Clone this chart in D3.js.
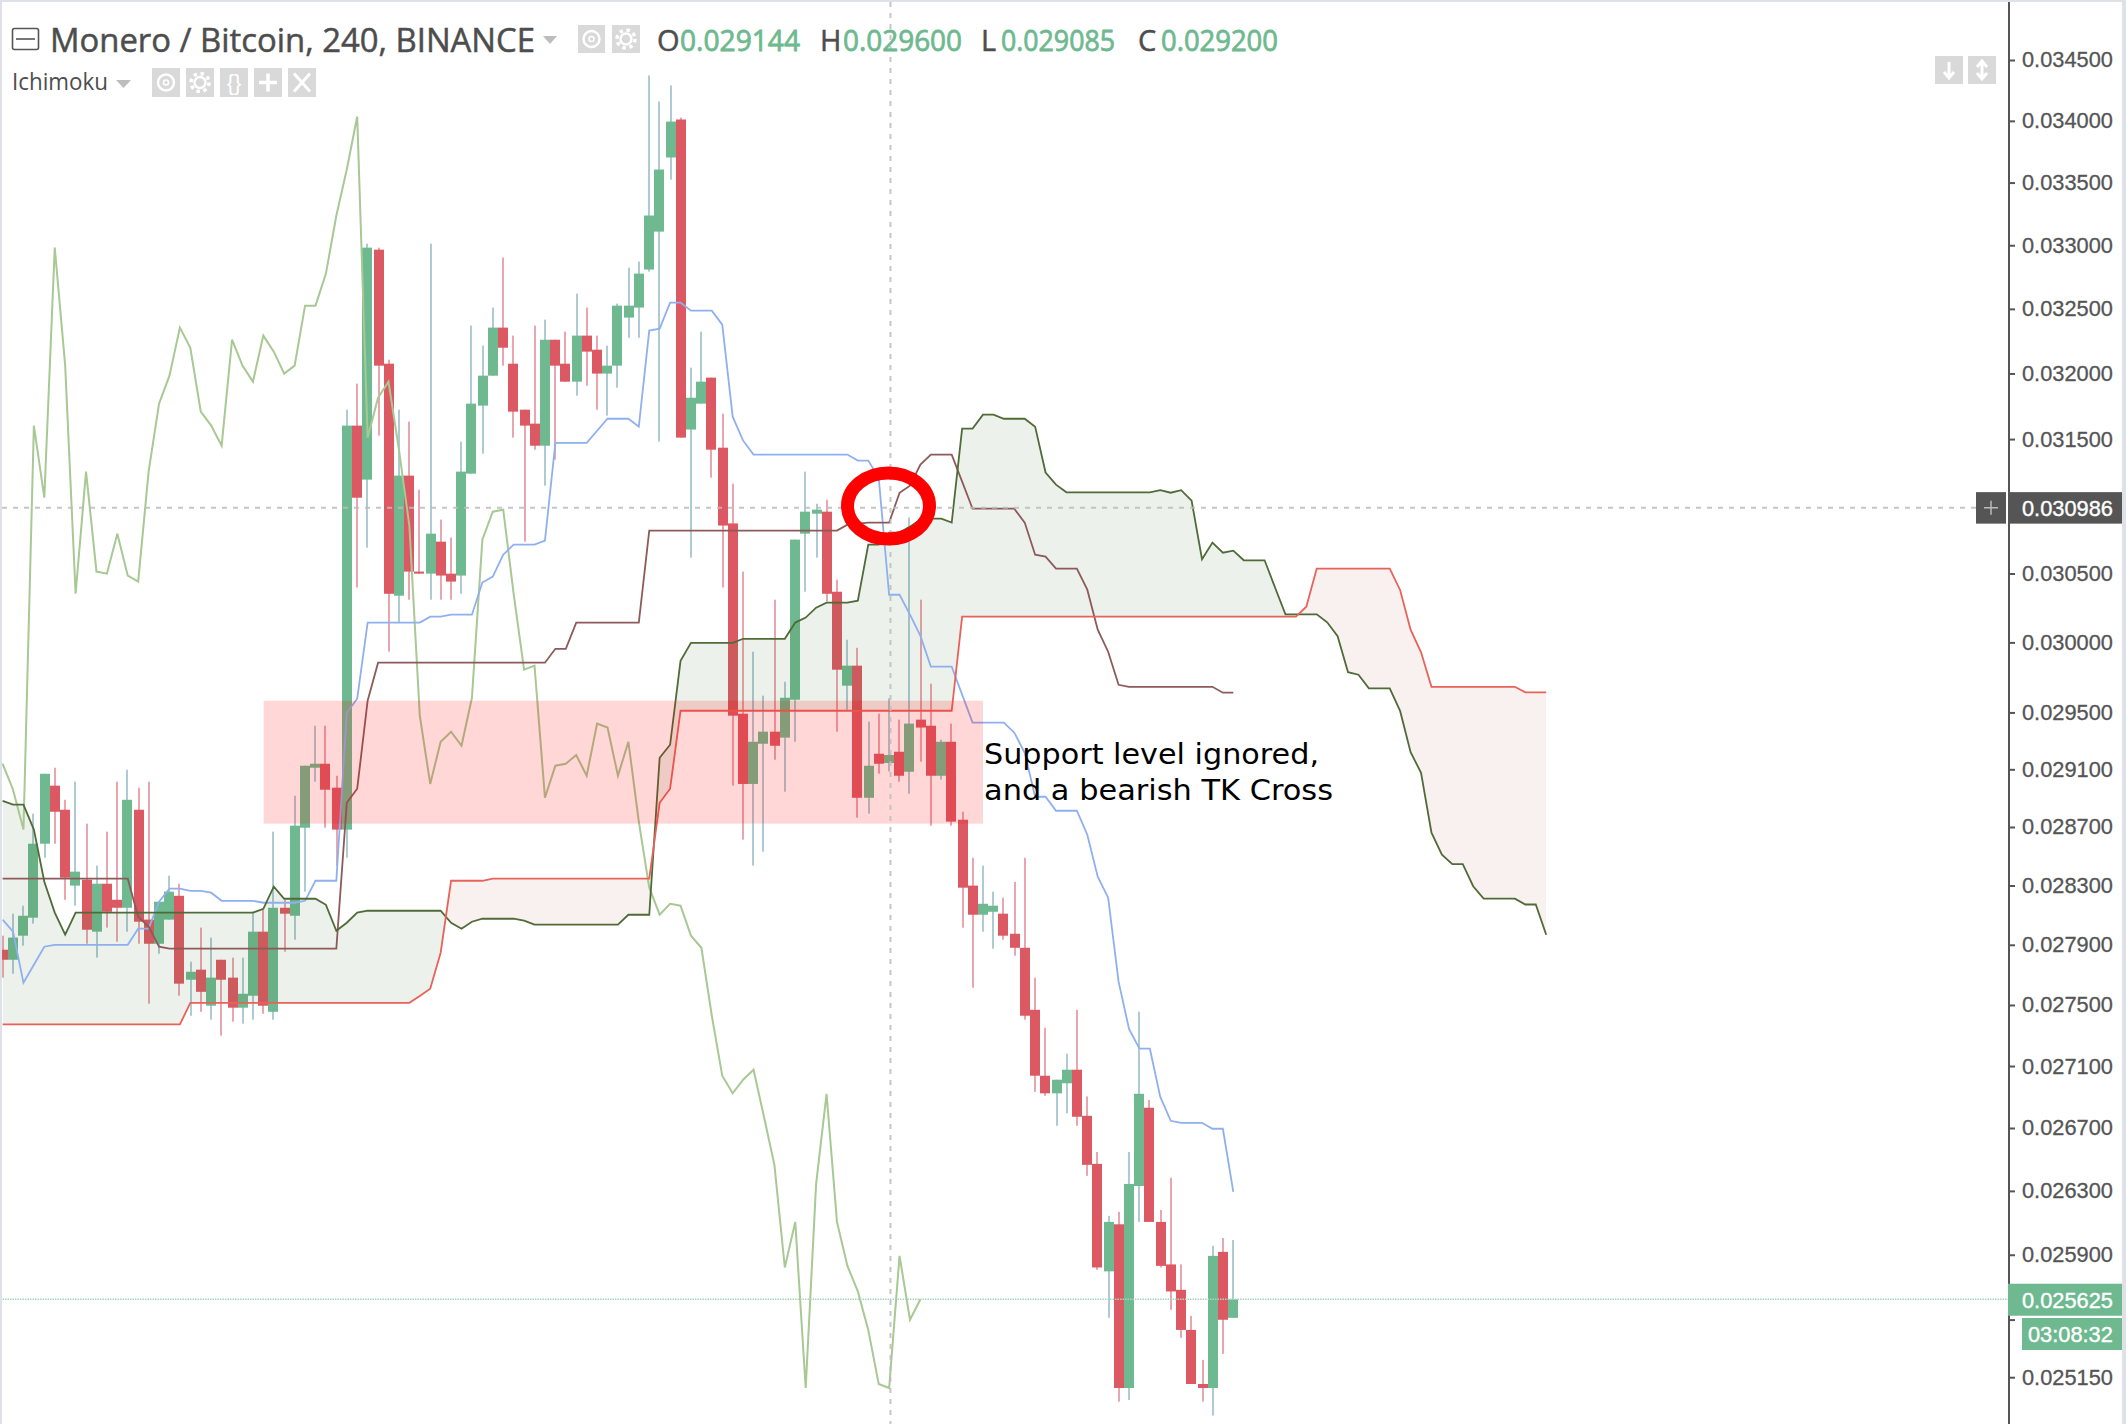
<!DOCTYPE html>
<html><head><meta charset="utf-8">
<style>html,body{margin:0;padding:0;background:#fff}svg{display:block}</style>
<script src="https://cdn.jsdelivr.net/npm/d3@7"></script></head><body>
<svg id="c" width="2126" height="1424"></svg>
<script>
// prices in millionths of a BTC
const opens=[27867,27800,27961,28082,28585,28986,28819,28299,28339,27988,
28312,28203,28149,28819,28069,27907,28069,28230,27667,27734,
27495,27800,27681,27482,27561,27988,27455,28149,28095,28695,
29111,29139,28972,28682,31602,31195,32965,32075,30338,31225,
30514,30499,30734,30499,30485,31240,31754,31983,32354,32075,
31723,31617,31450,32260,32075,31937,32292,32183,31999,32060,
32432,32510,32808,33108,33702,34011,31572,31769,31968,31435,
30869,29491,28998,29279,29364,29322,29590,30793,30941,30956,
30367,29690,29833,28902,29209,29144,29223,29083,29449,29406,
29055,29293,28750,28299,28102,28122,28109,27974,27880,27468,
27037,26923,26988,27076,26778,26471,25797,26090,25085,26331,
26830,26105,25840,25683,25437,25109,25085,25918,25511];
const highs=[27961,28109,28163,28792,29069,29111,28888,29014,28723,28435,
28668,29014,29097,28972,29014,28190,28367,28312,27787,28015,
27948,27800,27814,27814,28122,28136,28668,28203,28916,29125,
29406,29406,29055,31723,31922,33013,32981,32106,31723,31632,
31120,33013,30897,30764,31481,32370,32214,32510,32902,32292,
31723,32370,32416,32260,32323,32619,32510,32292,32214,32541,
32823,32871,34372,34158,34290,34027,32045,32323,31968,31693,
31165,30514,29933,29619,30309,29718,30749,31255,31015,31045,
30455,30019,29961,29435,29491,29600,29449,30913,30309,29704,
29308,29421,28805,28489,28435,28258,28217,28325,28489,27681,
27350,27011,27180,27468,26903,26547,26143,26168,26547,27455,
26881,26180,26383,25840,25523,25255,25955,26004,25992];
const lows=[27681,27707,27894,28042,28489,28585,28203,28163,27907,27814,
28015,27921,27988,27907,27508,27840,28069,27561,27429,27455,
27403,27298,27390,27377,27403,27442,27403,27854,27934,28258,
29014,28695,28435,28489,30397,30690,31526,29933,30143,30309,
30499,30309,30309,30309,30352,31240,31390,31983,32060,31511,
30734,31420,31150,31345,31937,31830,31906,31723,31678,31891,
32275,32275,32792,31481,33524,31511,30616,31769,31210,30397,
28986,28613,28435,28530,29167,28944,29293,30367,30616,30295,
29364,29519,28764,28792,29069,29085,29014,28930,29153,28709,
29028,28709,28015,27614,27988,27874,27934,27827,27403,26933,
26907,26714,26794,26714,26395,25806,25511,25003,25013,26105,
26105,25821,25560,25389,25109,25003,24920,25291,25511];
const closes=[27800,27948,28095,28585,29069,28805,28353,28394,28001,28312,
28122,28149,28888,28055,27907,28190,28258,27641,27720,27587,
27681,27667,27482,27574,27988,27495,28149,28109,28709,29125,
29139,28958,28682,31602,31060,32981,32060,30352,31225,30514,
30499,30793,30485,30441,31255,31769,31983,32354,32198,31708,
31602,31450,32260,32060,31937,32292,32168,31999,32060,32525,
32525,32776,33236,33605,33994,31511,31814,31937,31420,30853,
29477,28998,29293,29364,29265,29604,30749,30956,30971,30352,
29804,29833,28902,29125,29139,29200,29055,29421,29393,29055,
29293,28737,28285,28102,28176,28163,27961,27880,27429,27037,
26923,27011,27076,26772,26465,25821,26105,25085,26344,26920,
26105,25831,25673,25437,25109,25085,25893,25499,25625];
const tenkan=[28069,27988,27647,27767,27887,27900,27900,27900,27900,27900,
27900,27900,27900,28008,28008,28190,28278,28278,28264,28264,
28251,28196,28196,28196,28196,28183,28183,28183,28183,28196,
28332,28332,28332,29498,29597,30143,30143,30143,30143,30143,
30143,30186,30186,30200,30200,30200,30434,30477,30638,30712,
30712,30712,30741,31472,31472,31472,31472,31563,31654,31654,
31654,31594,32331,32346,32549,32549,32486,32486,32486,32377,
31670,31488,31383,31383,31383,31383,31383,31383,31383,31383,
31383,31383,31338,31338,31210,30345,30345,30200,30047,29826,
29826,29826,29626,29428,29428,29428,29428,29357,29216,28909,
28909,28812,28812,28812,28647,28360,28217,27654,27343,27213,
27213,26900,26746,26733,26733,26733,26695,26695,26294];
const kijun=[28346,28346,28346,28346,28346,28346,28346,28346,28346,28346,
28346,28346,28346,28089,28022,27887,27874,27874,27874,27874,
27874,27874,27874,27874,27874,27874,27874,27874,27874,27874,
27874,27874,27874,28867,28965,29583,29854,29854,29854,29854,
29854,29854,29854,29854,29854,29854,29854,29854,29854,29854,
29854,29854,29854,29954,29954,30143,30143,30143,30143,30143,
30143,30143,30816,30816,30816,30816,30816,30816,30816,30816,
30816,30816,30816,30816,30816,30816,30816,30816,30816,30816,
30816,30860,30867,30875,30875,30875,31097,31150,31308,31383,
31383,31383,31180,30978,30978,30978,30978,30978,30875,30638,
30624,30536,30536,30536,30382,30092,29933,29696,29682,29682,
29682,29682,29682,29682,29682,29682,29682,29640,29640];
const leadA=[28881,28854,28854,28682,28325,28116,27968,28116,28116,28116,
28116,28116,28116,28116,28116,28116,28116,28116,28116,28116,
28116,28116,28116,28116,28116,28142,28292,28210,28210,28210,
28210,28169,27994,28048,28116,28129,28129,28129,28129,28129,
28129,28129,28129,28048,28008,28055,28075,28075,28075,28075,
28062,28035,28035,28035,28035,28035,28035,28035,28035,28035,
28102,28102,28102,29181,29272,29868,29997,29997,29997,29997,
29997,30026,30026,30026,30026,30026,30143,30179,30251,30287,
30287,30287,30302,30712,30712,30801,30801,30845,30897,30904,
30904,30875,31579,31579,31685,31685,31654,31654,31654,31594,
31248,31157,31100,31100,31100,31100,31100,31100,31100,31100,
31100,31116,31097,31116,31038,30605,30727,30653,30668,30597,
30597,30597,30398,30203,30203,30203,30203,30145,30045,29786,
29768,29671,29671,29671,29509,29220,29076,28661,28510,28445,
28445,28295,28211,28211,28211,28211,28171,28171,27967];
const leadB=[27372,27372,27372,27372,27372,27372,27372,27372,27372,27372,
27372,27372,27372,27372,27372,27372,27372,27372,27514,27514,
27514,27514,27514,27514,27514,27514,27514,27514,27514,27514,
27514,27514,27514,27514,27514,27514,27514,27514,27514,27514,
27560,27607,27847,28332,28332,28332,28332,28346,28346,28346,
28346,28346,28346,28346,28346,28346,28346,28346,28346,28346,
28346,28346,28346,28867,28965,29512,29512,29512,29512,29512,
29512,29512,29512,29512,29512,29512,29512,29512,29512,29512,
29512,29512,29512,29512,29512,29512,29512,29512,29512,29512,
29512,29512,30186,30186,30186,30186,30186,30186,30186,30186,
30186,30186,30186,30186,30186,30186,30186,30186,30186,30186,
30186,30186,30186,30186,30186,30186,30186,30186,30186,30186,
30186,30186,30186,30186,30186,30258,30536,30536,30536,30536,
30536,30536,30536,30536,30378,30092,29929,29682,29682,29682,
29682,29682,29682,29682,29682,29682,29643,29643,29643];
const lagging=[29139,28958,28682,31602,31060,32981,32060,30352,31255,30514,
30499,30793,30485,30441,31255,31769,31983,32354,32198,31708,
31602,31450,32260,32060,31937,32292,32168,31999,32060,32525,
32525,32776,33236,33605,34035,31511,31814,31937,31420,30853,
29477,28998,29293,29364,29265,29604,30749,30956,30971,30352,
29804,29833,28902,29125,29139,29200,29055,29421,29393,29055,
29293,28737,28285,28102,28176,28163,27961,27880,27429,27037,
26923,27011,27076,26772,26465,25821,26105,25085,26344,26920,
26105,25831,25673,25437,25109,25085,25893,25499,25625];
const priceTicks=[34500,34000,33500,33000,32500,32000,31500,31000,30500,30000,29500,29100,28700,28300,27900,27500,27100,26700,26300,25900,25500,25150];
const hiddenTickLabels=[31000,25500];
const supportZone={x0:25.03,x1:94,top:29583,bottom:28723};
const crosshair={bar:85.13,price:30986};
const lastPrice=25625;
const countdown="03:08:32";
const title="Monero / Bitcoin, 240, BINANCE";
const ohlcLetters=["O","H","L","C"];
const ohlcValues=["0.029144","0.029600","0.029085","0.029200"];
const noteLines=["Support level ignored,","and a bearish TK Cross"];

const W=2126,H=1424,axisX=2009;
const svg=d3.select("#c");
const x=d3.scaleLinear().domain([0,148]).range([2.6,1546.2]);
const y=d3.scaleLog().domain([34500,25150]).range([60,1377.2]);
const fmt=v=>(v/1e6).toFixed(6);
const C={up:"#6eb98f",dn:"#dc5963",upW:"#aecbd3",dnW:"#e9a6ae",txt:"#555",
  ten:"#8fb0ee",kij:"#8d5a5a",a:"#4f6b37",b:"#e8625a",lag:"#a8c894",
  cloudUp:"rgba(60,110,40,0.095)",cloudDn:"rgba(170,50,30,0.07)",zone:"rgba(255,0,0,0.155)",cross:"#bdbdbd",icon:"#d9d9d9"};
const sans="'Liberation Sans',Arial,sans-serif", head="'Open Sans',sans-serif";

svg.append("rect").attr("width",W).attr("height",H).attr("fill","#fff");
const defs=svg.append("defs");
defs.append("clipPath").attr("id","plot").append("rect").attr("x",2).attr("y",2).attr("width",axisX-2).attr("height",H-2);

const plot=svg.append("g").attr("clip-path","url(#plot)");

// candles
const bars=d3.range(closes.length).map(i=>({i,o:opens[i],h:highs[i],l:lows[i],c:closes[i]}));
const bodyLeft=d=>Math.round((x(d.i)-5)/2)*2;
plot.append("g").selectAll("rect").data(bars).join("rect")
  .attr("x",d=>bodyLeft(d)+4).attr("width",2)
  .attr("y",d=>y(d.h)).attr("height",d=>y(d.l)-y(d.h))
  .attr("fill",d=>d.c>=d.o?C.upW:C.dnW);
plot.append("g").selectAll("rect").data(bars).join("rect")
  .attr("x",bodyLeft).attr("width",10)
  .attr("y",d=>y(Math.max(d.o,d.c))).attr("height",d=>Math.max(2,Math.abs(y(d.o)-y(d.c))))
  .attr("fill",d=>d.c>=d.o?C.up:C.dn);

// cloud
const cloud=d3.range(leadA.length).map(i=>({i,a:leadA[i],b:leadB[i]}));
const between=d3.area().x(d=>x(d.i)).y0(d=>y(d.a)).y1(d=>y(d.b));
defs.append("clipPath").attr("id","aboveB").append("path")
  .attr("d",d3.area().x(d=>x(d.i)).y0(0).y1(d=>y(d.b))(cloud));
defs.append("clipPath").attr("id","aboveA").append("path")
  .attr("d",d3.area().x(d=>x(d.i)).y0(0).y1(d=>y(d.a))(cloud));
plot.append("path").attr("d",between(cloud)).attr("fill",C.cloudUp).attr("clip-path","url(#aboveB)");
plot.append("path").attr("d",between(cloud)).attr("fill",C.cloudDn).attr("clip-path","url(#aboveA)");

// ichimoku lines
const line=d3.line().x((d,i)=>x(i)).y(d=>y(d));
[[lagging,C.lag,2],[tenkan,C.ten,1.8],[kijun,C.kij,1.8],[leadA,C.a,1.8],[leadB,C.b,1.8]].forEach(([s,col,w])=>{
  plot.append("path").attr("d",line(s)).attr("fill","none").attr("stroke",col).attr("stroke-width",w).attr("stroke-linejoin","miter");
});

// last price line
plot.append("line").attr("x1",0).attr("x2",axisX).attr("y1",y(lastPrice)).attr("y2",y(lastPrice))
  .attr("stroke","#a6d6bb").attr("stroke-width",1.4).attr("stroke-dasharray","1.5 1");

// support zone
plot.append("rect").attr("x",x(supportZone.x0)).attr("width",x(supportZone.x1)-x(supportZone.x0))
  .attr("y",y(supportZone.top)).attr("height",y(supportZone.bottom)-y(supportZone.top)).attr("fill",C.zone);

// crosshair
plot.append("line").attr("x1",x(crosshair.bar)).attr("x2",x(crosshair.bar)).attr("y1",2).attr("y2",H)
  .attr("stroke",C.cross).attr("stroke-width",2).attr("stroke-dasharray","5 6").attr("opacity",.85);
plot.append("line").attr("x1",2).attr("x2",1976).attr("y1",y(crosshair.price)).attr("y2",y(crosshair.price))
  .attr("stroke",C.cross).attr("stroke-width",2).attr("stroke-dasharray","5 6").attr("opacity",.85);

// annotation
noteLines.forEach((t,i)=>svg.append("text").attr("x",984).attr("y",764+i*35.5).text(t)
  .attr("font-family","'DejaVu Sans',sans-serif").attr("font-size",29).attr("fill","#000")
  .attr("textLength",i?349:335).attr("lengthAdjust","spacingAndGlyphs"));

// red circle
svg.append("ellipse").attr("cx",888.5).attr("cy",506).attr("rx",41).attr("ry",33)
  .attr("fill","none").attr("stroke","#ff0000").attr("stroke-width",13);

// axis
const axisG=svg.append("g").attr("transform",`translate(${axisX},0)`)
  .call(d3.axisRight(y).tickValues(priceTicks).tickFormat(v=>hiddenTickLabels.includes(v)?"":fmt(v)).tickSize(6).tickPadding(7));
axisG.select(".domain").remove();
axisG.selectAll("line").attr("stroke",C.txt).attr("stroke-width",2);
axisG.selectAll("text").attr("font-family",sans).attr("font-size",21.8).attr("fill",C.txt).attr("stroke",C.txt).attr("stroke-width",.3);
svg.append("rect").attr("x",axisX-1).attr("y",2).attr("width",2).attr("height",H).attr("fill",C.txt);

function tag(x0,x1,yy,h,fill,text,tx){
  svg.append("rect").attr("x",x0).attr("y",yy).attr("width",x1-x0).attr("height",h).attr("fill",fill);
  svg.append("text").attr("x",tx).attr("y",yy+h/2).attr("dy",".36em").text(text)
    .attr("font-family",sans).attr("font-size",21.8).attr("fill","#fff").attr("stroke","#fff").attr("stroke-width",.4);
}
const cy=y(crosshair.price);
tag(axisX-1,2122,cy-15.5,31.5,C.txt,fmt(crosshair.price),2022);
svg.append("rect").attr("x",1976).attr("y",cy-15.5).attr("width",30).attr("height",31.5).attr("fill",C.txt);
svg.append("path").attr("d",`M1984 ${cy}H1998M1991 ${cy-7}V${cy+7}`).attr("stroke","#bbb").attr("stroke-width",1.5);
tag(axisX-1,2122,y(lastPrice)-15.5,32,"#6eb98f",fmt(lastPrice),2022);
tag(2022,2122,1318,32,"#6eb98f",countdown,2028);

// header
svg.append("rect").attr("x",12.5).attr("y",28.5).attr("width",26).attr("height",21).attr("rx",2).attr("fill","none").attr("stroke",C.txt).attr("stroke-width",1.6);
svg.append("line").attr("x1",16).attr("x2",35).attr("y1",39).attr("y2",39).attr("stroke",C.txt).attr("stroke-width",1.6);
svg.append("text").attr("x",50).attr("y",52).text(title).attr("font-family",head).attr("font-size",33).attr("fill","#4d4d4d")
  .attr("stroke","#4d4d4d").attr("stroke-width",.5)
  .attr("textLength",485).attr("lengthAdjust","spacingAndGlyphs");
const caret=(x0,yy,w,h)=>svg.append("path").attr("d",`M${x0} ${yy}h${w}l${-w/2} ${h}z`).attr("fill","#bdbdbd");
caret(543,36,14,8);
function iconBox(x0,yy,w,h,kind){
  svg.append("rect").attr("x",x0).attr("y",yy).attr("width",w).attr("height",h).attr("fill",C.icon);
  const cx=x0+w/2,cyy=yy+h/2,g=svg.append("g").attr("fill","none").attr("stroke","#fff").attr("stroke-width",2.4);
  if(kind==="eye"){g.append("circle").attr("cx",cx).attr("cy",cyy).attr("r",8);g.append("circle").attr("cx",cx).attr("cy",cyy).attr("r",2.5).attr("stroke-width",1.5);}
  if(kind==="gear"){g.append("circle").attr("cx",cx).attr("cy",cyy).attr("r",5.5);g.append("circle").attr("cx",cx).attr("cy",cyy).attr("r",9).attr("stroke-width",3.5).attr("stroke-dasharray","3.5 3.6");}
  if(kind==="brace"){svg.append("text").attr("x",cx).attr("y",cyy).attr("dy",".34em").attr("text-anchor","middle").text("{}").attr("font-family",sans).attr("font-size",22).attr("fill","#fff");}
  if(kind==="plus"){g.append("path").attr("d",`M${cx-9} ${cyy}H${cx+9}M${cx} ${cyy-9}V${cyy+9}`).attr("stroke-width",3.5);}
  if(kind==="x"){g.append("path").attr("d",`M${cx-8} ${cyy-9}L${cx+8} ${cyy+9}M${cx+8} ${cyy-9}L${cx-8} ${cyy+9}`).attr("stroke-width",3);}
  if(kind==="down"){g.append("path").attr("d",`M${cx} ${cyy-8}V${cyy+5}M${cx-5} ${cyy+2}L${cx} ${cyy+8}L${cx+5} ${cyy+2}`).attr("stroke-width",3);}
  if(kind==="updown"){g.append("path").attr("d",`M${cx} ${cyy-8}V${cyy+8}M${cx-5} ${cyy-3}L${cx} ${cyy-9}L${cx+5} ${cyy-3}M${cx-5} ${cyy+3}L${cx} ${cyy+9}L${cx+5} ${cyy+3}`).attr("stroke-width",3);}
}
iconBox(578,25,27,28,"eye");iconBox(612,25,28,28,"gear");
const ohlcX=[[657,680,800],[820,843,962],[981,1001,1115],[1138,1161,1278]];
ohlcLetters.forEach((l,i)=>{
  svg.append("text").attr("x",ohlcX[i][0]).attr("y",51).text(l).attr("font-family",head).attr("font-size",29).attr("fill","#4d4d4d").attr("stroke","#4d4d4d").attr("stroke-width",.5);
  svg.append("text").attr("x",ohlcX[i][1]).attr("y",51).text(ohlcValues[i]).attr("font-family",head).attr("font-size",29).attr("fill","#6eb98f").attr("stroke","#6eb98f").attr("stroke-width",.8)
    .attr("textLength",ohlcX[i][2]-ohlcX[i][1]).attr("lengthAdjust","spacingAndGlyphs");
});
svg.append("text").attr("x",12).attr("y",90).text("Ichimoku").attr("font-family",head).attr("font-size",23).attr("fill","#4d4d4d")
  .attr("textLength",96).attr("lengthAdjust","spacingAndGlyphs");
caret(116,80,15,8);
[[152,"eye"],[186,"gear"],[220,"brace"],[254,"plus"],[288,"x"]].forEach(([a,k])=>iconBox(a,68,28,29,k));
iconBox(1935,56,28,28,"down");iconBox(1968,56,28,28,"updown");

// frame
svg.append("rect").attr("x",0).attr("y",0).attr("width",W).attr("height",2).attr("fill","#dfe1e8");
svg.append("rect").attr("x",0).attr("y",0).attr("width",2).attr("height",H).attr("fill","#dfe1e8");
svg.append("rect").attr("x",2122).attr("y",0).attr("width",4).attr("height",H).attr("fill","#dfe1e8");
</script></body></html>
